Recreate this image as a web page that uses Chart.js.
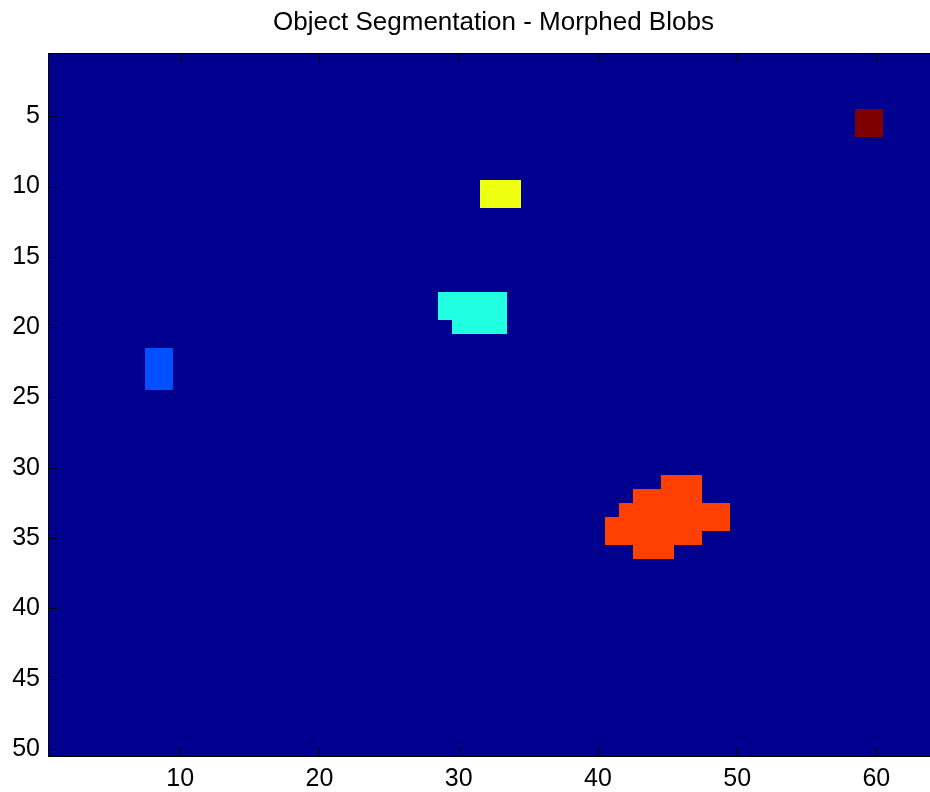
<!DOCTYPE html>
<html>
<head>
<meta charset="utf-8">
<script src="https://cdn.jsdelivr.net/npm/chart.js@4"></script>
<style>
  html, body { margin: 0; padding: 0; background: #fff; overflow: hidden; }
  #wrap { width: 950px; height: 792px; }
</style>
</head>
<body>
<div id="wrap"><canvas id="myChart"></canvas></div>
<script>
// label image size (rows x cols)
const nRows = 50;
const nCols = 64;

// blobs as runs: [row, firstCol, lastCol]
const blob1 = [[22, 8, 9], [23, 8, 9], [24, 8, 9]];
const blob2 = [[18, 29, 33], [19, 29, 33], [20, 30, 33]];
const blob3 = [[10, 32, 34], [11, 32, 34]];
const blob4 = [
  [31, 45, 47], [32, 43, 47], [33, 42, 49],
  [34, 41, 49], [35, 41, 47], [36, 43, 45],
];
const blob5 = [[5, 59, 60], [6, 59, 60]];
const blobs = [blob1, blob2, blob3, blob4, blob5];

// jet colormap entries for labels 0..5
const labelColors = ["#00008F", "#0050FF", "#20FFDF", "#EFFF10", "#FF4000", "#800000"];

const xTicks = [10, 20, 30, 40, 50, 60];
const yTicks = [5, 10, 15, 20, 25, 30, 35, 40, 45, 50];

const titleText = "Object Segmentation - Morphed Blobs";

// build the full grid of cells
let grid = [];
for (let r = 1; r <= nRows; r++) {
  grid.push(new Array(nCols).fill(0));
}
blobs.forEach((runs, i) => {
  runs.forEach(([r, c0, c1]) => {
    for (let c = c0; c <= c1; c++) grid[r - 1][c - 1] = i + 1;
  });
});
let cells = [];
for (let r = 1; r <= nRows; r++) {
  for (let c = 1; c <= nCols; c++) {
    cells.push({ x: c, y: r, v: grid[r - 1][c - 1] });
  }
}

const fontFamily = "Liberation Sans, Arial, sans-serif";

const imagePlugin = {
  id: "imagePlugin",
  beforeDatasetsDraw(chart) {
    const ctx = chart.ctx;
    const xs = chart.scales.x;
    const ys = chart.scales.y;
    const area = chart.chartArea;
    ctx.save();
    ctx.beginPath();
    ctx.rect(area.left, area.top, area.right - area.left, area.bottom - area.top);
    ctx.clip();
    cells.forEach((p) => {
      const x0 = Math.round(xs.getPixelForValue(p.x - 0.5));
      const x1 = Math.round(xs.getPixelForValue(p.x + 0.5));
      const y0 = Math.round(ys.getPixelForValue(p.y - 0.5));
      const y1 = Math.round(ys.getPixelForValue(p.y + 0.5));
      ctx.fillStyle = labelColors[p.v];
      ctx.fillRect(x0, Math.min(y0, y1), x1 - x0, Math.abs(y1 - y0));
    });
    ctx.restore();
  },
  afterDraw(chart) {
    const ctx = chart.ctx;
    const xs = chart.scales.x;
    const ys = chart.scales.y;
    const a = chart.chartArea;
    ctx.save();
    ctx.strokeStyle = "#000";
    ctx.lineWidth = 1;
    ctx.beginPath();
    xTicks.forEach((t) => {
      const px = Math.round(xs.getPixelForValue(t)) + 0.5;
      ctx.moveTo(px, a.bottom);
      ctx.lineTo(px, a.bottom - 9);
      ctx.moveTo(px, a.top);
      ctx.lineTo(px, a.top + 9);
    });
    yTicks.forEach((t) => {
      const py = Math.round(ys.getPixelForValue(t)) + 0.5;
      ctx.moveTo(a.left, py);
      ctx.lineTo(a.left + 9, py);
    });
    ctx.stroke();
    ctx.strokeRect(a.left + 0.5, a.top + 0.5, a.right - a.left, a.bottom - a.top);

    // title centred over the axes box, like matlab does
    ctx.fillStyle = "#000";
    ctx.font = "26px " + fontFamily;
    ctx.textAlign = "center";
    ctx.textBaseline = "middle";
    ctx.fillText(titleText, (a.left + a.right) / 2, 23);
    ctx.restore();
  },
};

const ctx = document.getElementById("myChart").getContext("2d");
const myChart = new Chart(ctx, {
  type: "scatter",
  data: {
    datasets: [{ label: "labels", data: cells, pointRadius: 0, pointHoverRadius: 0 }],
  },
  plugins: [imagePlugin],
  options: {
    responsive: true,
    maintainAspectRatio: false,
    animation: false,
    layout: { padding: { left: 0, right: 11, top: 53, bottom: 0 } },
    scales: {
      x: {
        type: "linear",
        min: 0.5,
        max: nCols + 0.5,
        afterBuildTicks: (s) => { s.ticks = xTicks.map((v) => ({ value: v })); },
        afterFit: (s) => { s.height = 36; },
        grid: { display: false, drawTicks: false },
        border: { display: false },
        ticks: {
          color: "#000",
          padding: 8,
          font: { family: fontFamily, size: 25 },
        },
      },
      y: {
        type: "linear",
        reverse: true,
        min: 0.5,
        max: nRows + 0.5,
        afterBuildTicks: (s) => { s.ticks = yTicks.map((v) => ({ value: v })); },
        afterFit: (s) => { s.width = 48; },
        grid: { display: false, drawTicks: false },
        border: { display: false },
        ticks: {
          color: "#000",
          padding: 8,
          font: { family: fontFamily, size: 25 },
        },
      },
    },
    plugins: {
      legend: { display: false },
      tooltip: { enabled: false },
      title: { display: false },
    },
  },
});
</script>
</body>
</html>
